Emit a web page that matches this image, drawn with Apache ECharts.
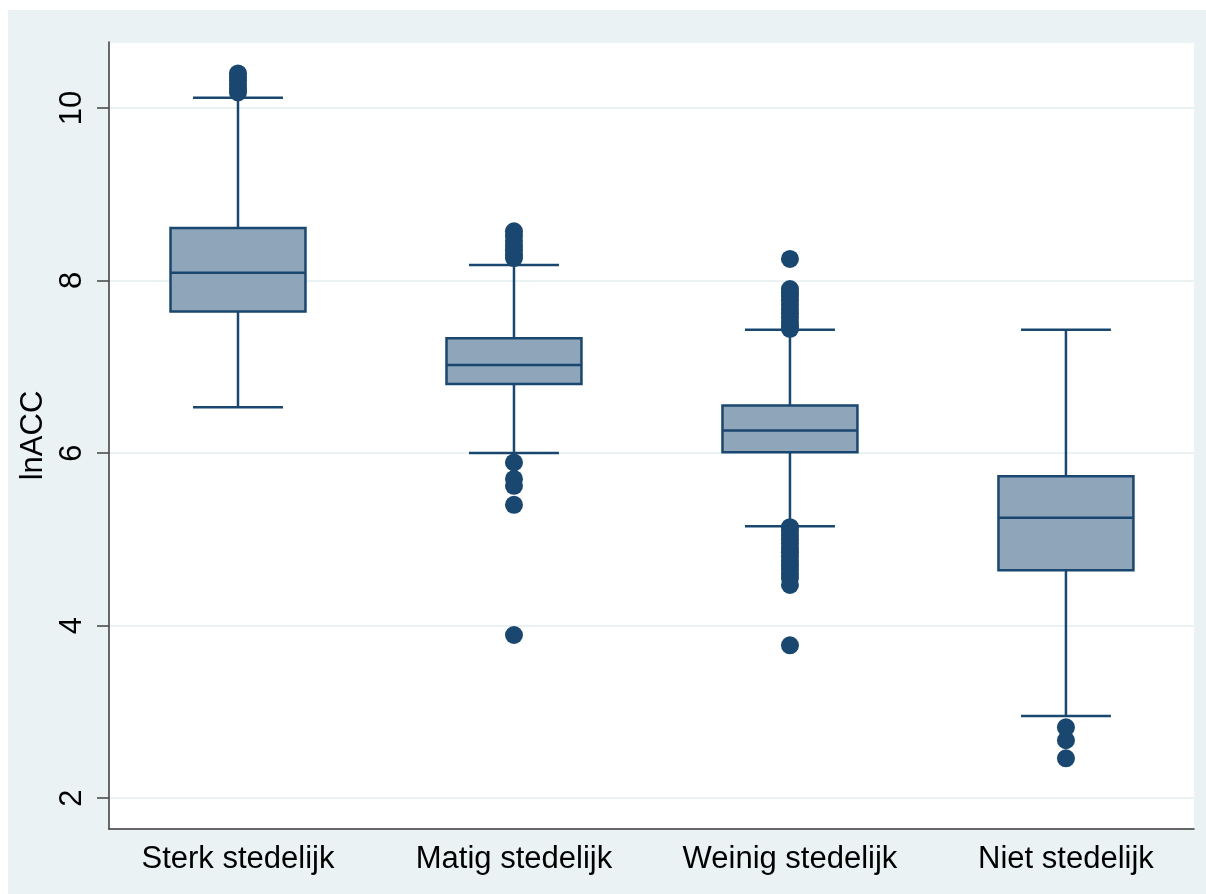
<!DOCTYPE html>
<html>
<head>
<meta charset="utf-8">
<script src="https://cdn.jsdelivr.net/npm/echarts@6/dist/echarts.min.js"></script>
<style>
  html, body { margin: 0; padding: 0; background: #ffffff; }
  #bg { position: absolute; left: 8px; top: 10px; width: 1198px; height: 884px; background: #eaf2f3; }
  #chart { position: absolute; left: 0; top: 0; width: 1206px; height: 894px; }
</style>
</head>
<body>
<div id="bg"></div>
<div id="chart"></div>
<script>
const categories = ['Sterk stedelijk', 'Matig stedelijk', 'Weinig stedelijk', 'Niet stedelijk'];
const whiskerLow  = [6.53, 6.00, 5.15, 2.95];
const q1          = [7.64, 6.80, 6.01, 4.64];
const median      = [8.09, 7.02, 6.26, 5.25];
const q3          = [8.61, 7.33, 6.55, 5.73];
const whiskerHigh = [10.12, 8.18, 7.43, 7.43];
const outliers = [
  [10.18, 10.22, 10.27, 10.32, 10.36, 10.40],
  [8.26, 8.30, 8.35, 8.40, 8.46, 8.52, 8.57, 5.89, 5.70, 5.62, 5.40, 3.89],
  [8.25, 7.90, 7.86, 7.82, 7.77, 7.72, 7.67, 7.62, 7.57, 7.52, 7.47, 7.44,
   5.14, 5.10, 5.05, 5.00, 4.95, 4.90, 4.85, 4.80, 4.75, 4.70, 4.65, 4.60, 4.55, 4.47, 3.77],
  [2.82, 2.67, 2.46]
];
const yTicks = [2, 4, 6, 8, 10];

const NAVY = '#1a476f';
const FILL = '#8ea5ba';
const FONT = "'Liberation Sans', Arial, sans-serif";

const boxData = categories.map((c, i) => [i + 1, whiskerLow[i], q1[i], median[i], q3[i], whiskerHigh[i]]);
const outlierData = [];
outliers.forEach((arr, i) => arr.forEach(v => outlierData.push([i + 1, v])));

const chart = echarts.init(document.getElementById('chart'), null, { renderer: 'canvas' });

chart.setOption({
  backgroundColor: 'transparent',
  animation: false,
  grid: {
    left: 109, right: 12, top: 42, bottom: 65,
    show: true, backgroundColor: '#ffffff', borderWidth: 0
  },
  xAxis: {
    type: 'value',
    min: 0.5326, max: 4.464,
    axisLine: { show: true, onZero: false, lineStyle: { color: '#3a3a3a', width: 1.5 } },
    axisTick: { show: false },
    splitLine: { show: false },
    axisLabel: {
      margin: 15,
      fontFamily: FONT, fontSize: 31, color: '#000000',
      formatter: function (v) {
        const r = Math.round(v);
        if (Math.abs(v - r) < 1e-6 && r >= 1 && r <= categories.length) return categories[r - 1];
        return '';
      }
    }
  },
  yAxis: {
    type: 'value',
    min: 1.641, max: 10.765,
    splitNumber: 5,
    name: 'lnACC',
    nameLocation: 'middle',
    nameGap: 56,
    nameTextStyle: { fontFamily: FONT, fontSize: 31, color: '#000000' },
    axisLine: { show: true, onZero: false, lineStyle: { color: '#3a3a3a', width: 1.5 } },
    axisTick: { show: true, length: 12, lineStyle: { color: '#444444', width: 1.5 } },
    splitLine: { show: true, lineStyle: { color: '#eaf2f3', width: 2 } },
    axisLabel: {
      rotate: 90,
      margin: 21,
      fontFamily: FONT, fontSize: 31, color: '#000000',
      showMinLabel: false, showMaxLabel: false,
      formatter: function (v) {
        const r = Math.round(v);
        if (Math.abs(v - r) < 1e-6 && yTicks.indexOf(r) >= 0) return String(r);
        return '';
      }
    }
  },
  series: [
    {
      type: 'custom',
      data: boxData,
      encode: { x: 0, y: [1, 2, 3, 4, 5] },
      z: 3,
      renderItem: function (params, api) {
        const x = api.value(0);
        const halfBox = 0.2445;
        const halfCap = 0.163;
        const lo = api.coord([x, api.value(1)]);
        const b1 = api.coord([x, api.value(2)]);
        const md = api.coord([x, api.value(3)]);
        const b3 = api.coord([x, api.value(4)]);
        const hi = api.coord([x, api.value(5)]);
        const bl = api.coord([x - halfBox, api.value(2)])[0];
        const br = api.coord([x + halfBox, api.value(2)])[0];
        const cl = api.coord([x - halfCap, api.value(2)])[0];
        const cr = api.coord([x + halfCap, api.value(2)])[0];
        const ls = { stroke: NAVY, lineWidth: 2.5, fill: null };
        return {
          type: 'group',
          children: [
            { type: 'line', shape: { x1: lo[0], y1: lo[1], x2: b1[0], y2: b1[1] }, style: ls },
            { type: 'line', shape: { x1: hi[0], y1: hi[1], x2: b3[0], y2: b3[1] }, style: ls },
            { type: 'line', shape: { x1: cl, y1: lo[1], x2: cr, y2: lo[1] }, style: ls },
            { type: 'line', shape: { x1: cl, y1: hi[1], x2: cr, y2: hi[1] }, style: ls },
            { type: 'rect', shape: { x: bl, y: b3[1], width: br - bl, height: b1[1] - b3[1] },
              style: { fill: FILL, stroke: NAVY, lineWidth: 2.5 } },
            { type: 'line', shape: { x1: bl, y1: md[1], x2: br, y2: md[1] }, style: ls }
          ]
        };
      }
    },
    {
      type: 'scatter',
      data: outlierData,
      symbol: 'circle',
      symbolSize: 18,
      itemStyle: { color: NAVY, opacity: 1 },
      z: 4
    }
  ]
});
</script>
</body>
</html>
